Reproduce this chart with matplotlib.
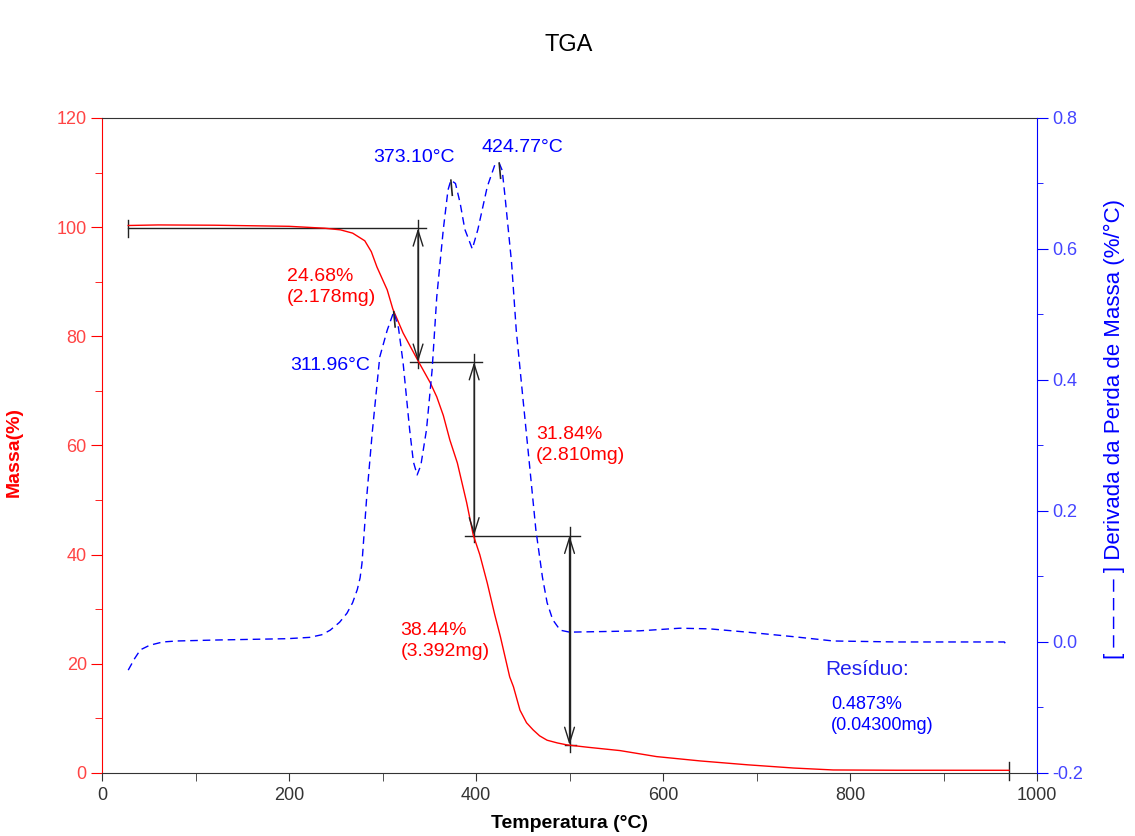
import numpy as np
import matplotlib.pyplot as plt
from matplotlib.ticker import MultipleLocator

plt.rcParams['font.family'] = ['Liberation Sans', 'DejaVu Sans']

# TGA curve (mass %)
temp_tga = [28, 60, 120, 200, 238, 255, 268, 281, 288, 294, 305, 311, 322, 338, 351,
            358, 365, 372, 380, 390, 397, 404, 412, 420, 426, 436, 440, 447, 454, 461,
            468, 476, 487, 497, 520, 554, 593, 640, 690, 740, 782, 850, 970]
mass = [100.3, 100.4, 100.35, 100.15, 99.8, 99.5, 98.9, 97.5, 95.5, 92.7, 88.5, 85.0, 80.6, 75.5, 71.5,
        68.9, 65.5, 61.0, 56.8, 49.5, 43.6, 40.0, 34.8, 29.0, 25.0, 17.6, 15.8, 11.5, 9.2, 7.9,
        6.8, 6.0, 5.5, 5.15, 4.7, 4.1, 3.0, 2.2, 1.5, 0.9, 0.55, 0.5, 0.49]

# DTG curve (%/°C)
temp_dtg = [28, 35, 41, 51, 65, 80, 123, 198, 222, 235, 244, 254, 262, 268, 273, 276, 278,
            283, 289, 297, 305, 311.96, 317, 322, 329, 333, 337, 341, 347, 353, 358, 365,
            370, 373.1, 378, 383, 388, 396, 402, 412, 420, 424.77, 428, 431, 438, 443, 450,
            457, 464, 471, 476, 482, 490, 500, 540, 575, 618, 650, 690, 740, 782, 850, 946,
            965, 969]
dtg = [-0.043, -0.025, -0.012, -0.005, 0.0, 0.0015, 0.003, 0.005, 0.007, 0.011, 0.018, 0.03,
       0.044, 0.06, 0.08, 0.098, 0.12, 0.22, 0.32, 0.435, 0.476, 0.504, 0.48, 0.426, 0.324,
       0.275, 0.255, 0.27, 0.324, 0.415, 0.527, 0.63, 0.69, 0.705, 0.70, 0.67, 0.63, 0.60,
       0.63, 0.695, 0.728, 0.731, 0.72, 0.68, 0.579, 0.476, 0.374, 0.273, 0.171, 0.099, 0.06,
       0.034, 0.018, 0.015, 0.016, 0.017, 0.021, 0.02, 0.015, 0.008, 0.0015, 0.0, 0.0, 0.0,
       -0.008]

# step analysis
step_start = [28, 338, 398]
step_x = [338, 398, 500]
step_top = [99.8, 75.3, 43.5]
step_bottom = [75.3, 43.5, 5.1]
step_labels = ['24.68%\n(2.178mg)', '31.84%\n(2.810mg)', '38.44%\n(3.392mg)']
label_pos = [(198, 89.0), (464, 60.1), (319, 24.2)]

peaks = [311.96, 373.10, 424.77]
peak_vals = [0.504, 0.705, 0.731]
peak_text_pos = [(244, 74.6), (334, 112.7), (450, 114.5)]

red = '#ff0000'
blue = '#0000ff'
black = '#222222'

fig = plt.figure(figsize=(11.35, 8.36), dpi=100)
ax = fig.add_axes([0.0899, 0.0754, 0.8238, 0.7835])
ax2 = ax.twinx()

ax.plot(temp_tga, mass, color=red, lw=1.0, zorder=3)
ax2.plot(temp_dtg, dtg, color=blue, lw=1.0, dashes=(5.5, 3.5))

ax.set_xlim(0, 1000)
ax.set_ylim(0, 120)
ax2.set_ylim(-0.2, 0.8)

ax.xaxis.set_major_locator(MultipleLocator(200))
ax.xaxis.set_minor_locator(MultipleLocator(100))
ax.yaxis.set_major_locator(MultipleLocator(20))
ax.yaxis.set_minor_locator(MultipleLocator(10))
ax2.yaxis.set_major_locator(MultipleLocator(0.2))
ax2.yaxis.set_minor_locator(MultipleLocator(0.1))
ax2.yaxis.set_major_formatter(plt.FuncFormatter(lambda v, p: '%.1f' % v))

for s in ['top', 'bottom']:
    ax.spines[s].set_color('#333333')
ax.spines['left'].set_color(red)
ax.spines['right'].set_visible(False)
ax2.spines['right'].set_color(blue)
for s in ['top', 'bottom', 'left']:
    ax2.spines[s].set_visible(False)

ax.tick_params(axis='x', which='both', direction='out', length=6, color='#333333',
               labelsize=13, labelcolor='#333333', pad=4)
ax.tick_params(axis='y', which='major', direction='out', length=8, color=red,
               labelsize=13, labelcolor='#ff4444', pad=3)
ax.tick_params(axis='y', which='minor', direction='out', length=5, color=red)
ax2.tick_params(axis='y', which='major', direction='out', length=8, color=blue,
                labelsize=13, labelcolor='#4444ff', pad=3)
ax2.tick_params(axis='y', which='minor', direction='out', length=4, color=blue)

ax.set_xlabel('Temperatura (°C)', fontsize=14, fontweight='bold', color='black', labelpad=8)
ax.set_ylabel('Massa(%)', fontsize=14, fontweight='bold', color=red)
ax.yaxis.set_label_coords(-0.085, 0.49)
fig.text(0.982, 0.487, '[ – – – – ] Derivada da Perda de Massa (%/°C)', fontsize=16,
         color=blue, rotation=90, ha='center', va='center')
fig.text(0.501, 0.946, 'TGA', fontsize=17, ha='center', va='center')

# step lines and arrows
ax.plot([step_start[0], 347], [step_top[0], step_top[0]], color=black, lw=1.0)
ax.plot([step_start[0], step_start[0]], [step_top[0] - 1.7, step_top[0] + 1.5], color=black, lw=1.0)
ax.plot([329, 406], [step_top[1], step_top[1]], color=black, lw=1.0)
ax.plot([388, 511], [step_top[2], step_top[2]], color=black, lw=1.0)
ax.plot([495, 507], [step_bottom[2], step_bottom[2]], color=black, lw=1.0)
ax.plot([970, 970], [-1.3, 2.0], color=black, lw=1.0, clip_on=False)
for x, top, bot in zip(step_x, step_top, step_bottom):
    ax.plot([x, x], [top + 1.5, bot - 1.2], color=black, lw=1.0)
    ax.annotate('', xy=(x, bot), xytext=(x, top),
                arrowprops=dict(arrowstyle='<->,head_length=0.7,head_width=0.22',
                                color=black, lw=1.0, shrinkA=0, shrinkB=0,
                                mutation_scale=16))

for txt, (tx, ty) in zip(step_labels, label_pos):
    ax.text(tx, ty, txt, color=red, fontsize=14, ha='left', va='center', linespacing=1.3)

for p, v, (tx, ty) in zip(peaks, peak_vals, peak_text_pos):
    ax2.plot([p, p + 1.5], [v, v - 0.023], color=black, lw=1.2)
    ax.text(tx, ty, '%.2f°C' % p, color=blue, fontsize=14, ha='center', va='center')

ax.text(774, 18.9, 'Resíduo:', color='#2222ee', fontsize=15, ha='left', va='center')
ax.text(780, 10.6, '0.4873%\n(0.04300mg)', color=blue, fontsize=13, ha='left', va='center',
        linespacing=1.3)

fig.savefig('out.png', dpi=100)
